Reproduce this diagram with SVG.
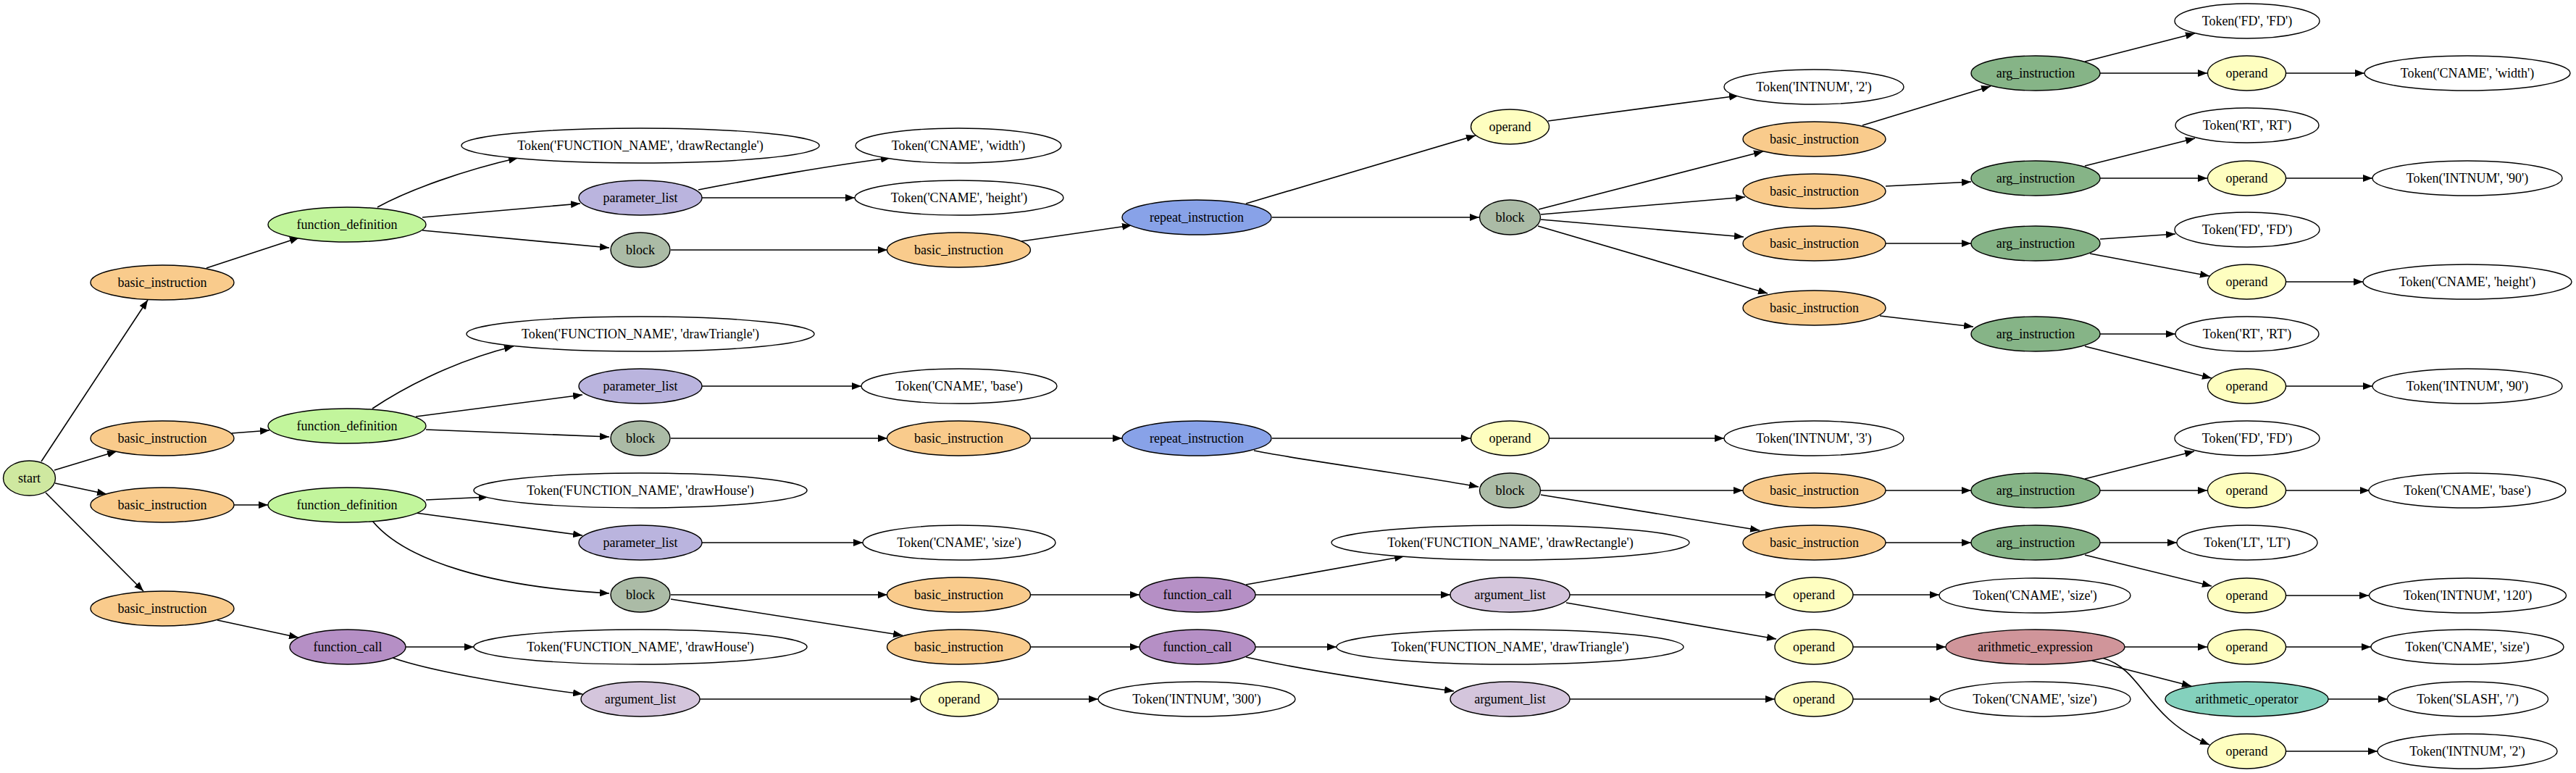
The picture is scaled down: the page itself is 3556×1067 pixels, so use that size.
<svg xmlns="http://www.w3.org/2000/svg" width="3556" height="1067" viewBox="0 0 3556 1067">
<style>
ellipse{stroke:#000;stroke-width:1.4}
text{font-family:"Liberation Serif","Times New Roman",serif;font-size:18px;text-anchor:middle;fill:#000}
.tk ellipse{fill:#fff}
.st ellipse{fill:#cfe8a0}
.fd ellipse{fill:#c2f59c}
.bi ellipse{fill:#f9cb8c}
.pl ellipse{fill:#bab4de}
.bk ellipse{fill:#abbba6}
.rp ellipse{fill:#88a2e8}
.op ellipse{fill:#fefec0}
.ai ellipse{fill:#86b487}
.fc ellipse{fill:#b58fc5}
.al ellipse{fill:#d4c5dc}
.ae ellipse{fill:#d0959a}
.ao ellipse{fill:#84d1bd}
#edges path{fill:none;stroke:#000;stroke-width:1.6;marker-end:url(#arr)}
</style>
<defs>
<marker id="arr" markerWidth="14" markerHeight="10" refX="13" refY="5" orient="auto" markerUnits="userSpaceOnUse"><path d="M0,0 L13,5 L0,10 z" fill="#000"/></marker>
</defs>
<rect width="3556" height="1067" fill="#fff"/>
<g id="edges">
<path d="M57,637 L204,414"/>
<path d="M75,649 L161,623"/>
<path d="M76,667 L147,682"/>
<path d="M63,680 L198,816"/>
<path d="M285,370 L413,328"/>
<path d="M521,286 C565,262 640,235 715,218"/>
<path d="M583,300 L801,281"/>
<path d="M583,318 L841,342"/>
<path d="M964,262 C1040,247 1150,228 1229,218"/>
<path d="M969,273 L1180,273"/>
<path d="M926,345 L1225,345"/>
<path d="M1410,333 L1562,311"/>
<path d="M1720,281 L2037,187"/>
<path d="M1756,300 L2042,300"/>
<path d="M2137,167 L2400,132"/>
<path d="M2124,289 L2434,209"/>
<path d="M2127,296 L2409,272"/>
<path d="M2127,303 L2407,327"/>
<path d="M2123,312 L2440,405"/>
<path d="M2571,173 L2748,119"/>
<path d="M2878,85 L3030,46"/>
<path d="M2899,101 L3047,101"/>
<path d="M3156,101 L3264,101"/>
<path d="M2603,257 L2721,251"/>
<path d="M2878,229 L3030,191"/>
<path d="M2899,246 L3047,246"/>
<path d="M3156,246 L3275,246"/>
<path d="M2603,336 L2721,336"/>
<path d="M2899,330 L3003,323"/>
<path d="M2885,350 L3050,381"/>
<path d="M3156,389 L3262,389"/>
<path d="M2595,436 L2724,451"/>
<path d="M2899,461 L3003,461"/>
<path d="M2878,478 L3053,522"/>
<path d="M3156,533 L3275,533"/>
<path d="M320,598 L372,594"/>
<path d="M514,564 C550,540 620,500 709,478"/>
<path d="M574,575 L804,545"/>
<path d="M588,593 L841,603"/>
<path d="M969,533 L1189,533"/>
<path d="M926,605 L1225,605"/>
<path d="M1422,605 L1549,605"/>
<path d="M1756,605 L2030,605"/>
<path d="M1731,622 C1800,636 1950,655 2041,672"/>
<path d="M2139,605 L2380,605"/>
<path d="M2127,677 L2406,677"/>
<path d="M2127,683 L2429,732"/>
<path d="M2603,677 L2721,677"/>
<path d="M2878,661 L3029,623"/>
<path d="M2899,677 L3047,677"/>
<path d="M3156,677 L3271,677"/>
<path d="M2603,749 L2721,749"/>
<path d="M2899,749 L3005,749"/>
<path d="M2878,766 L3053,809"/>
<path d="M3156,822 L3270,822"/>
<path d="M323,697 L370,697"/>
<path d="M588,690 L674,686"/>
<path d="M574,708 L804,739"/>
<path d="M514,719 C560,775 680,810 841,819"/>
<path d="M969,749 L1191,749"/>
<path d="M926,821 L1225,821"/>
<path d="M926,827 L1246,877"/>
<path d="M1422,821 L1573,821"/>
<path d="M1720,807 L1938,768"/>
<path d="M1733,821 L2002,821"/>
<path d="M2167,821 L2450,821"/>
<path d="M2162,832 L2452,882"/>
<path d="M2558,821 L2677,821"/>
<path d="M2558,893 L2686,893"/>
<path d="M2933,893 L3047,893"/>
<path d="M2888,912 L3025,947"/>
<path d="M2902,908 C2960,925 2960,990 3050,1028"/>
<path d="M3214,965 L3296,965"/>
<path d="M3156,893 L3273,893"/>
<path d="M3156,1037 L3282,1037"/>
<path d="M1422,893 L1573,893"/>
<path d="M1733,893 L1845,893"/>
<path d="M1720,907 C1800,925 1900,940 2007,954"/>
<path d="M2167,965 L2450,965"/>
<path d="M2558,965 L2677,965"/>
<path d="M300,856 L412,880"/>
<path d="M560,893 L654,893"/>
<path d="M542,908 C590,925 700,945 804,958"/>
<path d="M966,965 L1270,965"/>
<path d="M1378,965 L1516,965"/>
</g>
<g id="start" class="st"><ellipse cx="40.5" cy="660" rx="36" ry="24"/><text x="40.5" y="666">start</text></g>
<g id="bi1" class="bi"><ellipse cx="224" cy="390" rx="99" ry="24"/><text x="224" y="396">basic_instruction</text></g>
<g id="bi2" class="bi"><ellipse cx="224" cy="605" rx="99" ry="24"/><text x="224" y="611">basic_instruction</text></g>
<g id="bi3" class="bi"><ellipse cx="224" cy="697" rx="99" ry="24"/><text x="224" y="703">basic_instruction</text></g>
<g id="bi4" class="bi"><ellipse cx="224" cy="840" rx="99" ry="24"/><text x="224" y="846">basic_instruction</text></g>
<g id="fd1" class="fd"><ellipse cx="479" cy="310" rx="109" ry="24"/><text x="479" y="316">function_definition</text></g>
<g id="fd2" class="fd"><ellipse cx="479" cy="588" rx="109" ry="24"/><text x="479" y="594">function_definition</text></g>
<g id="fd3" class="fd"><ellipse cx="479" cy="697" rx="109" ry="24"/><text x="479" y="703">function_definition</text></g>
<g id="fc1" class="fc"><ellipse cx="480" cy="893" rx="80" ry="24"/><text x="480" y="899">function_call</text></g>
<g id="tokFN1" class="tk"><ellipse cx="884" cy="201" rx="247" ry="24"/><text x="884" y="207">Token('FUNCTION_NAME', 'drawRectangle')</text></g>
<g id="pl1" class="pl"><ellipse cx="884" cy="273" rx="85" ry="24"/><text x="884" y="279">parameter_list</text></g>
<g id="blk1" class="bk"><ellipse cx="884" cy="345" rx="41" ry="24"/><text x="884" y="351">block</text></g>
<g id="tokFN2" class="tk"><ellipse cx="884" cy="461" rx="240" ry="24"/><text x="884" y="467">Token('FUNCTION_NAME', 'drawTriangle')</text></g>
<g id="pl2" class="pl"><ellipse cx="884" cy="533" rx="85" ry="24"/><text x="884" y="539">parameter_list</text></g>
<g id="blk2" class="bk"><ellipse cx="884" cy="605" rx="41" ry="24"/><text x="884" y="611">block</text></g>
<g id="tokFN3" class="tk"><ellipse cx="884" cy="677" rx="230" ry="24"/><text x="884" y="683">Token('FUNCTION_NAME', 'drawHouse')</text></g>
<g id="pl3" class="pl"><ellipse cx="884" cy="749" rx="85" ry="24"/><text x="884" y="755">parameter_list</text></g>
<g id="blk3" class="bk"><ellipse cx="884" cy="821" rx="41" ry="24"/><text x="884" y="827">block</text></g>
<g id="tokFN4" class="tk"><ellipse cx="884" cy="893" rx="230" ry="24"/><text x="884" y="899">Token('FUNCTION_NAME', 'drawHouse')</text></g>
<g id="al1" class="al"><ellipse cx="884" cy="965" rx="82" ry="24"/><text x="884" y="971">argument_list</text></g>
<g id="tokW" class="tk"><ellipse cx="1323" cy="201" rx="142" ry="24"/><text x="1323" y="207">Token('CNAME', 'width')</text></g>
<g id="tokH" class="tk"><ellipse cx="1324" cy="273" rx="144" ry="24"/><text x="1324" y="279">Token('CNAME', 'height')</text></g>
<g id="bi5" class="bi"><ellipse cx="1323.5" cy="345" rx="99" ry="24"/><text x="1323.5" y="351">basic_instruction</text></g>
<g id="tokB" class="tk"><ellipse cx="1324" cy="533" rx="135" ry="24"/><text x="1324" y="539">Token('CNAME', 'base')</text></g>
<g id="bi6" class="bi"><ellipse cx="1323.5" cy="605" rx="99" ry="24"/><text x="1323.5" y="611">basic_instruction</text></g>
<g id="tokS" class="tk"><ellipse cx="1324" cy="749" rx="133" ry="24"/><text x="1324" y="755">Token('CNAME', 'size')</text></g>
<g id="bi7" class="bi"><ellipse cx="1323.5" cy="821" rx="99" ry="24"/><text x="1323.5" y="827">basic_instruction</text></g>
<g id="bi8" class="bi"><ellipse cx="1323.5" cy="893" rx="99" ry="24"/><text x="1323.5" y="899">basic_instruction</text></g>
<g id="op1" class="op"><ellipse cx="1324" cy="965" rx="54" ry="24"/><text x="1324" y="971">operand</text></g>
<g id="rep1" class="rp"><ellipse cx="1652" cy="300" rx="103" ry="24"/><text x="1652" y="306">repeat_instruction</text></g>
<g id="rep2" class="rp"><ellipse cx="1652" cy="605" rx="103" ry="24"/><text x="1652" y="611">repeat_instruction</text></g>
<g id="fc2" class="fc"><ellipse cx="1653" cy="821" rx="80" ry="24"/><text x="1653" y="827">function_call</text></g>
<g id="fc3" class="fc"><ellipse cx="1653" cy="893" rx="80" ry="24"/><text x="1653" y="899">function_call</text></g>
<g id="tok300" class="tk"><ellipse cx="1652" cy="965" rx="136" ry="24"/><text x="1652" y="971">Token('INTNUM', '300')</text></g>
<g id="op2" class="op"><ellipse cx="2084.5" cy="175" rx="54" ry="24"/><text x="2084.5" y="181">operand</text></g>
<g id="blk4" class="bk"><ellipse cx="2084.5" cy="300" rx="42" ry="24"/><text x="2084.5" y="306">block</text></g>
<g id="op3" class="op"><ellipse cx="2084.5" cy="605" rx="54" ry="24"/><text x="2084.5" y="611">operand</text></g>
<g id="blk5" class="bk"><ellipse cx="2084.5" cy="677" rx="42" ry="24"/><text x="2084.5" y="683">block</text></g>
<g id="tokFN5" class="tk"><ellipse cx="2085" cy="749" rx="247" ry="24"/><text x="2085" y="755">Token('FUNCTION_NAME', 'drawRectangle')</text></g>
<g id="al2" class="al"><ellipse cx="2084.5" cy="821" rx="82.5" ry="24"/><text x="2084.5" y="827">argument_list</text></g>
<g id="tokFN6" class="tk"><ellipse cx="2084.5" cy="893" rx="239.5" ry="24"/><text x="2084.5" y="899">Token('FUNCTION_NAME', 'drawTriangle')</text></g>
<g id="al3" class="al"><ellipse cx="2084.5" cy="965" rx="82.5" ry="24"/><text x="2084.5" y="971">argument_list</text></g>
<g id="tokI2" class="tk"><ellipse cx="2504" cy="120" rx="124" ry="24"/><text x="2504" y="126">Token('INTNUM', '2')</text></g>
<g id="bi9" class="bi"><ellipse cx="2504.5" cy="192" rx="98.5" ry="24"/><text x="2504.5" y="198">basic_instruction</text></g>
<g id="bi10" class="bi"><ellipse cx="2504.5" cy="264" rx="98.5" ry="24"/><text x="2504.5" y="270">basic_instruction</text></g>
<g id="bi11" class="bi"><ellipse cx="2504.5" cy="336" rx="98.5" ry="24"/><text x="2504.5" y="342">basic_instruction</text></g>
<g id="bi12" class="bi"><ellipse cx="2504.5" cy="425" rx="98.5" ry="24"/><text x="2504.5" y="431">basic_instruction</text></g>
<g id="tokI3" class="tk"><ellipse cx="2504" cy="605" rx="124" ry="24"/><text x="2504" y="611">Token('INTNUM', '3')</text></g>
<g id="bi13" class="bi"><ellipse cx="2504.5" cy="677" rx="98.5" ry="24"/><text x="2504.5" y="683">basic_instruction</text></g>
<g id="bi14" class="bi"><ellipse cx="2504.5" cy="749" rx="98.5" ry="24"/><text x="2504.5" y="755">basic_instruction</text></g>
<g id="op4" class="op"><ellipse cx="2504" cy="821" rx="54" ry="24"/><text x="2504" y="827">operand</text></g>
<g id="op5" class="op"><ellipse cx="2504" cy="893" rx="54" ry="24"/><text x="2504" y="899">operand</text></g>
<g id="op6" class="op"><ellipse cx="2504" cy="965" rx="54" ry="24"/><text x="2504" y="971">operand</text></g>
<g id="ai1" class="ai"><ellipse cx="2810" cy="101" rx="89" ry="24"/><text x="2810" y="107">arg_instruction</text></g>
<g id="ai2" class="ai"><ellipse cx="2810" cy="246" rx="89" ry="24"/><text x="2810" y="252">arg_instruction</text></g>
<g id="ai3" class="ai"><ellipse cx="2810" cy="336" rx="89" ry="24"/><text x="2810" y="342">arg_instruction</text></g>
<g id="ai4" class="ai"><ellipse cx="2810" cy="461" rx="89" ry="24"/><text x="2810" y="467">arg_instruction</text></g>
<g id="ai5" class="ai"><ellipse cx="2810" cy="677" rx="89" ry="24"/><text x="2810" y="683">arg_instruction</text></g>
<g id="ai6" class="ai"><ellipse cx="2810" cy="749" rx="89" ry="24"/><text x="2810" y="755">arg_instruction</text></g>
<g id="tokSz1" class="tk"><ellipse cx="2809" cy="822" rx="132" ry="24"/><text x="2809" y="828">Token('CNAME', 'size')</text></g>
<g id="ae" class="ae"><ellipse cx="2809.5" cy="893" rx="123.5" ry="24"/><text x="2809.5" y="899">arithmetic_expression</text></g>
<g id="tokSz2" class="tk"><ellipse cx="2809" cy="965" rx="132" ry="24"/><text x="2809" y="971">Token('CNAME', 'size')</text></g>
<g id="tokFD1" class="tk"><ellipse cx="3102" cy="29" rx="100" ry="24"/><text x="3102" y="35">Token('FD', 'FD')</text></g>
<g id="op7" class="op"><ellipse cx="3101.5" cy="101" rx="54" ry="24"/><text x="3101.5" y="107">operand</text></g>
<g id="tokRT1" class="tk"><ellipse cx="3102" cy="173" rx="99" ry="24"/><text x="3102" y="179">Token('RT', 'RT')</text></g>
<g id="op8" class="op"><ellipse cx="3101.5" cy="246" rx="54" ry="24"/><text x="3101.5" y="252">operand</text></g>
<g id="tokFD2" class="tk"><ellipse cx="3102" cy="317" rx="100" ry="24"/><text x="3102" y="323">Token('FD', 'FD')</text></g>
<g id="op9" class="op"><ellipse cx="3101.5" cy="389" rx="54" ry="24"/><text x="3101.5" y="395">operand</text></g>
<g id="tokRT2" class="tk"><ellipse cx="3102" cy="461" rx="99" ry="24"/><text x="3102" y="467">Token('RT', 'RT')</text></g>
<g id="op10" class="op"><ellipse cx="3101.5" cy="533" rx="54" ry="24"/><text x="3101.5" y="539">operand</text></g>
<g id="tokFD3" class="tk"><ellipse cx="3102" cy="605" rx="100" ry="24"/><text x="3102" y="611">Token('FD', 'FD')</text></g>
<g id="op11" class="op"><ellipse cx="3101.5" cy="677" rx="54" ry="24"/><text x="3101.5" y="683">operand</text></g>
<g id="tokLT" class="tk"><ellipse cx="3102" cy="749" rx="97" ry="24"/><text x="3102" y="755">Token('LT', 'LT')</text></g>
<g id="op12" class="op"><ellipse cx="3101.5" cy="822" rx="54" ry="24"/><text x="3101.5" y="828">operand</text></g>
<g id="op13" class="op"><ellipse cx="3101.5" cy="893" rx="54" ry="24"/><text x="3101.5" y="899">operand</text></g>
<g id="aop" class="ao"><ellipse cx="3101.5" cy="965" rx="112.5" ry="24"/><text x="3101.5" y="971">arithmetic_operator</text></g>
<g id="op14" class="op"><ellipse cx="3101.5" cy="1037" rx="54" ry="24"/><text x="3101.5" y="1043">operand</text></g>
<g id="tokCW" class="tk"><ellipse cx="3406" cy="101" rx="142" ry="24"/><text x="3406" y="107">Token('CNAME', 'width')</text></g>
<g id="tokI90a" class="tk"><ellipse cx="3406" cy="246" rx="131" ry="24"/><text x="3406" y="252">Token('INTNUM', '90')</text></g>
<g id="tokCH" class="tk"><ellipse cx="3406" cy="389" rx="144" ry="24"/><text x="3406" y="395">Token('CNAME', 'height')</text></g>
<g id="tokI90b" class="tk"><ellipse cx="3406" cy="533" rx="131" ry="24"/><text x="3406" y="539">Token('INTNUM', '90')</text></g>
<g id="tokCB" class="tk"><ellipse cx="3406" cy="677" rx="136" ry="24"/><text x="3406" y="683">Token('CNAME', 'base')</text></g>
<g id="tokI120" class="tk"><ellipse cx="3406.5" cy="822" rx="136" ry="24"/><text x="3406.5" y="828">Token('INTNUM', '120')</text></g>
<g id="tokCS" class="tk"><ellipse cx="3406" cy="893" rx="133" ry="24"/><text x="3406" y="899">Token('CNAME', 'size')</text></g>
<g id="tokSL" class="tk"><ellipse cx="3406.5" cy="965" rx="111" ry="24"/><text x="3406.5" y="971">Token('SLASH', '/')</text></g>
<g id="tokI2b" class="tk"><ellipse cx="3406" cy="1037" rx="124" ry="24"/><text x="3406" y="1043">Token('INTNUM', '2')</text></g>
</svg>
